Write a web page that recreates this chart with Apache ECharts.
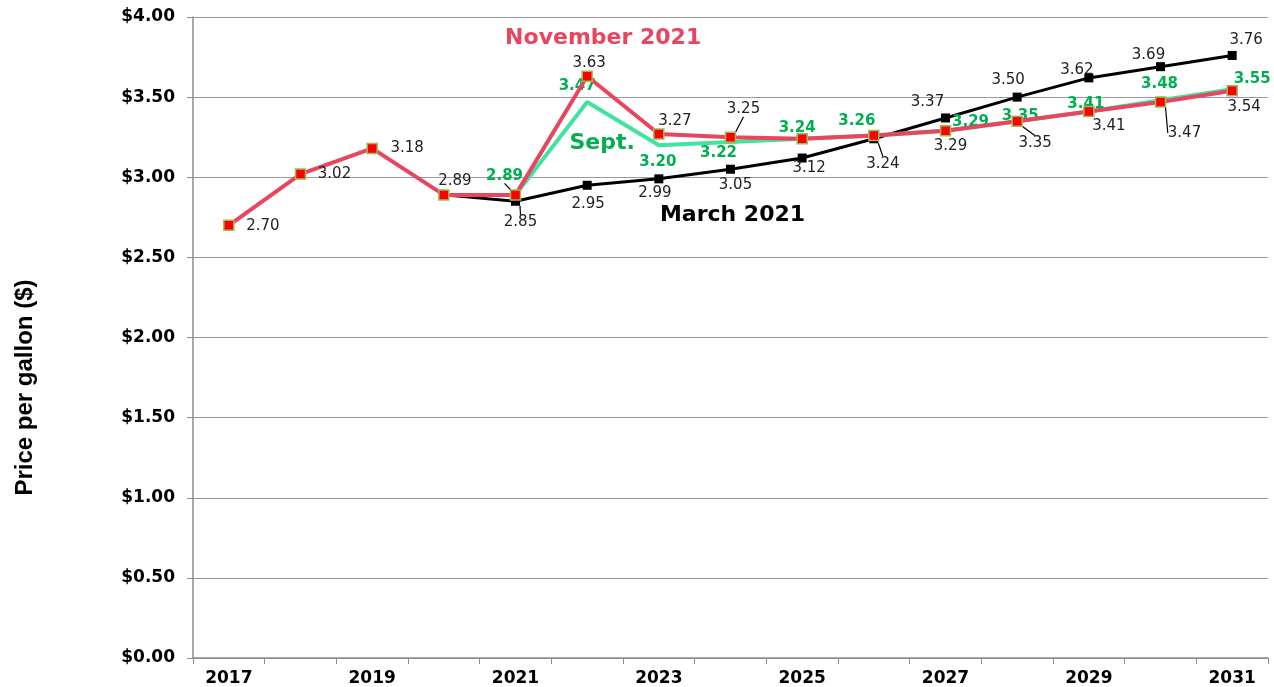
<!DOCTYPE html>
<html>
	<head>
		<title>Price per gallon</title>
		<meta charset="utf-8">
		<style>
html, body {
	width: 100%;
	height: 100%;
	margin: 0;
	background: #fff;
}
			#box1 {
				width: 1274px;
				height: 687px;
			}
		</style>
	</head>
	<body>
		<div id="box1"></div>
	</body>
	<script src="https://cdn.jsdelivr.net/npm/echarts@6/dist/echarts.min.js"></script>
	<script type="text/javascript">
// years on the x axis
var years = ['2017', '2018', '2019', '2020', '2021', '2022', '2023', '2024', '2025', '2026', '2027', '2028', '2029', '2030', '2031'];

// November 2021 forecast (with history)
var novValues = [2.70, 3.02, 3.18, 2.89, 2.89, 3.63, 3.27, 3.25, 3.24, 3.26, 3.29, 3.35, 3.41, 3.47, 3.54];
// September forecast
var septValues = [null, null, null, null, 2.89, 3.47, 3.20, 3.22, 3.24, 3.26, 3.29, 3.35, 3.41, 3.48, 3.55];
// March 2021 forecast
var marchValues = [null, null, null, 2.89, 2.85, 2.95, 2.99, 3.05, 3.12, 3.24, 3.37, 3.50, 3.62, 3.69, 3.76];

// label offsets from each point (null = no label)
var novOffsets = [[34, 1], [34, 0], [35, 0], [11, -14], null, [2, -13], [16, -13], [13, -28], null, null, [5, 15], [18, 22], [20, 15], [24, 31], [12, 16]];
var septOffsets = [null, null, null, null, [-11, -19], [-10, -16], [-1, 17], [-12, 11], [-5, -11], [-17, -14], [25, -9], [3, -5], [-3, -7], [-1, -16], [20, -10]];
var marchOffsets = [null, null, null, null, [5, 21], [1, 19], [-4, 14], [5, 16], [7, 10], [9, 25], [-18, -16], [-9, -17], [-12, -8], [-12, -12], [14, -15]];
// points whose label has a pointer line
var novLeaders = [7, 11, 13];
var septLeaders = [4];
var marchLeaders = [4, 9];

function build(values, offsets, leaders, labelStyle) {
	return values.map(function (v, i) {
		var o = offsets[i];
		if (v == null) return null;
		if (!o) return { value: v, label: { show: false } };
		return {
			value: v,
			label: Object.assign({
				show: true,
				position: 'inside',
				formatter: function (p) { return p.value.toFixed(2); }
			}, labelStyle),
			labelLine: { show: leaders.indexOf(i) >= 0, lineStyle: { color: '#000', width: 1.2 } }
		};
	});
}

function layoutFrom(offsets) {
	return function (p) {
		var o = offsets[p.dataIndex] || [0, 0];
		return { dx: o[0], dy: o[1] };
	};
}

var plainLabel = { color: '#222', fontFamily: 'DejaVu Sans', fontSize: 15 };
var greenLabel = { color: '#00b050', fontFamily: 'DejaVu Sans', fontWeight: 'bold', fontSize: 15 };

// text note placed at a data position
function note(text, cat, val, dx, color) {
	return {
		symbol: 'rect',
		symbolSize: 1,
		itemStyle: { color: 'rgba(0,0,0,0)' },
		data: [{ coord: [cat, val] }],
		label: {
			show: true,
			position: 'inside',
			offset: [dx, 0],
			formatter: text,
			color: color,
			fontFamily: 'DejaVu Sans',
			fontWeight: 'bold',
			fontSize: 22
		}
	};
}

var myChart = echarts.init(document.getElementById('box1'));

var option = {
	backgroundColor: '#fff',
	animation: false,
	grid: {
		left: 193,
		right: 6,
		top: 17,
		bottom: 29
	},
	xAxis: {
		type: 'category',
		data: years,
		boundaryGap: true,
		axisLine: { lineStyle: { color: '#8c8c8c', width: 1.5 } },
		axisTick: { show: true, interval: 0, length: 6, lineStyle: { color: '#8c8c8c' } },
		axisLabel: {
			interval: 1,
			margin: 12,
			color: '#000',
			fontFamily: 'DejaVu Sans',
			fontWeight: 'bold',
			fontSize: 17
		}
	},
	yAxis: {
		type: 'value',
		min: 0,
		max: 4,
		interval: 0.5,
		name: 'Price per gallon ($)',
		nameLocation: 'middle',
		nameGap: 156,
		nameRotate: 90,
		nameTextStyle: {
			color: '#000',
			fontFamily: 'Liberation Sans',
			fontWeight: 'bold',
			fontSize: 24,
			padding: [0, 100, 0, 0]
		},
		axisLine: { show: true, lineStyle: { color: '#8c8c8c', width: 1.5 } },
		axisTick: { show: true, length: 6, lineStyle: { color: '#8c8c8c' } },
		axisLabel: {
			margin: 18,
			color: '#000',
			fontFamily: 'DejaVu Sans',
			fontWeight: 'bold',
			fontSize: 17,
			formatter: function (v) { return '$' + v.toFixed(2); }
		},
		splitLine: { lineStyle: { color: '#9a9a9a', width: 1.2 } }
	},
	series: [{
		name: 'March 2021',
		type: 'line',
		data: build(marchValues, marchOffsets, marchLeaders, plainLabel),
		labelLayout: layoutFrom(marchOffsets),
		symbol: 'rect',
		symbolSize: 9,
		itemStyle: { color: '#000' },
		lineStyle: { color: '#000', width: 3 },
		z: 2,
		markPoint: note('March 2021', '2024', 2.76, 2, '#000')
	}, {
		name: 'Sept.',
		type: 'line',
		data: build(septValues, septOffsets, septLeaders, greenLabel),
		labelLayout: layoutFrom(septOffsets),
		symbol: 'circle',
		symbolSize: 1,
		showSymbol: true,
		lineStyle: { color: '#40e39f', width: 4 },
		itemStyle: { color: '#40e39f' },
		z: 3,
		markPoint: note('Sept.', '2022', 3.21, 15, '#00b050')
	}, {
		name: 'November 2021',
		type: 'line',
		data: build(novValues, novOffsets, novLeaders, plainLabel),
		labelLayout: layoutFrom(novOffsets),
		symbol: 'rect',
		symbolSize: 10,
		itemStyle: { color: '#ff0000', borderColor: '#9bbb59', borderWidth: 1.5 },
		lineStyle: { color: '#e8455f', width: 4 },
		z: 4,
		markPoint: note('November 2021', '2022', 3.87, 16, '#e8455f')
	}]
};

myChart.setOption(option);

window.addEventListener('resize', () => {
	myChart.resize()
})
	</script>
</html>
